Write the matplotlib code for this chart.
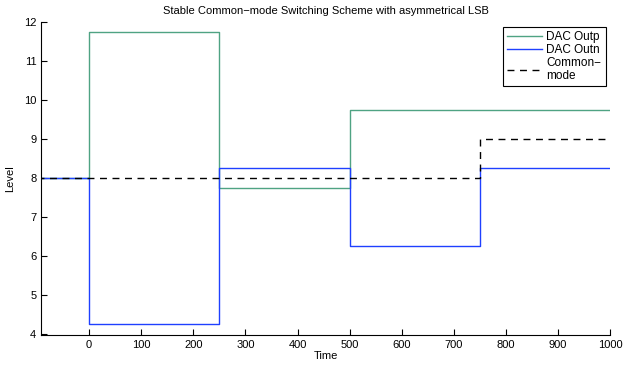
import matplotlib.pyplot as plt

plt.rcParams['font.family'] = ['Liberation Sans', 'DejaVu Sans']

# step edges and levels (post-step)
time = [-100, 0, 250, 500, 750, 1000]
dac_outp = [8, 11.75, 7.75, 9.75, 9.75, 9.75]
dac_outn = [8, 4.25, 8.25, 6.25, 8.25, 8.25]
common_mode = [8, 8, 8, 8, 9, 9]

fig = plt.figure(figsize=(6.24, 3.69), dpi=100)
ax = fig.add_axes([0.066, 0.092, 0.912, 0.848])

ax.step(time, dac_outp, where='post', color='#4fa383', lw=1.0, label='DAC Outp')
ax.step(time, dac_outn, where='post', color='#1f40ff', lw=1.0, label='DAC Outn')
ax.step(time, common_mode, where='post', color='black', lw=1.0, ls=(0, (5, 4)),
        label='Common\u2212\nmode')

ax.set_xlim(-92, 1000)
ax.set_ylim(3.97, 12)
ax.set_xticks(range(0, 1001, 100))
ax.set_yticks(range(4, 13))
ax.tick_params(direction='in', length=4, width=0.8, labelsize=8)
for s in ['top', 'right']:
    ax.spines[s].set_visible(False)
for s in ['left', 'bottom']:
    ax.spines[s].set_linewidth(0.8)

ax.set_xlabel('Time', fontsize=8, labelpad=1)
ax.set_ylabel('Level', fontsize=8, labelpad=6)
ax.set_title('Stable Common\u2212mode Switching Scheme with asymmetrical LSB', fontsize=8, pad=6)

leg = ax.legend(loc='upper right', fontsize=8.5, fancybox=False, framealpha=1,
                edgecolor='black', handlelength=2.9, borderaxespad=0.4,
                labelspacing=0.1, handletextpad=0.4, borderpad=0.35)
for t in leg.get_texts():
    t.set_linespacing(1.1)
leg.get_frame().set_linewidth(0.8)

fig.savefig('out.png', dpi=100)
